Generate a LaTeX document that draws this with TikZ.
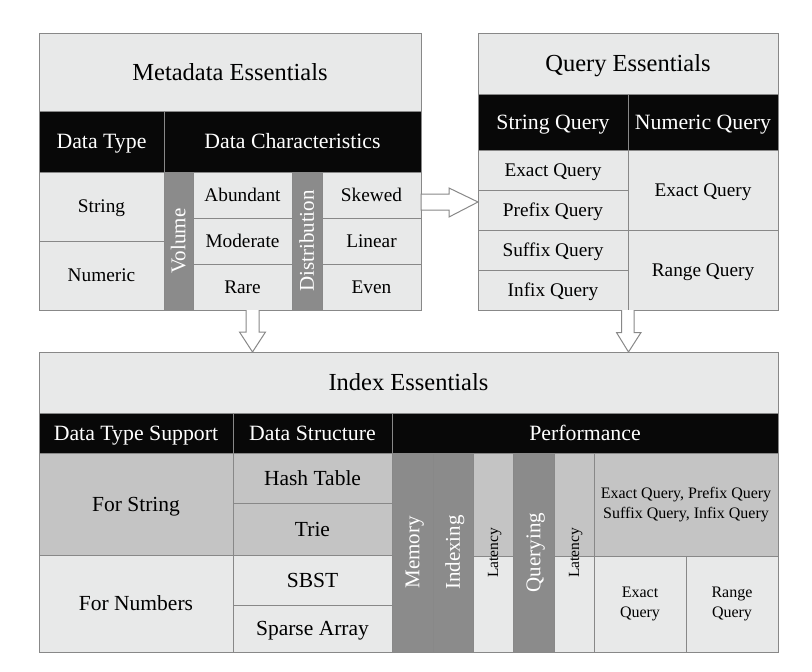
\documentclass[tikz,border=0pt]{standalone}
\usepackage{fontspec}
\setmainfont{Liberation Serif}
\definecolor{lg}{HTML}{E8E9E9}
\definecolor{mg}{HTML}{C4C4C4}
\definecolor{dg}{HTML}{8B8B8B}
\definecolor{bk}{HTML}{080808}
\definecolor{bd}{HTML}{888888}
\tikzset{
  cellst/.style={draw=bd,line width=1pt,inner sep=0pt,outer sep=0pt},
  oneline/.style={text height={0.7*#1},text depth={0.04*#1}},
  titlef/.style={font=\fontsize{24.5}{28}\selectfont,oneline=24.5pt},
  headf/.style={font=\fontsize{21.8}{25}\selectfont,text=white,oneline=21.8pt},
  bodyf/.style={font=\fontsize{19.3}{22}\selectfont,oneline=19.3pt},
  ibodyf/.style={font=\fontsize{21.5}{25}\selectfont,oneline=21.5pt},
  smallf/.style={font=\fontsize{16}{20}\selectfont},
  tinyf/.style={font=\fontsize{15.5}{18}\selectfont,rotate=90,oneline=15.5pt},
  vertw/.style={font=\fontsize{21}{24}\selectfont,rotate=90,text=white,oneline=21pt},
  blockarrow/.style={draw=bd,fill=white,line width=1pt,line join=miter},
}
% #1 name, #2 x1, #3 y1, #4 x2, #5 y2, #6 fill, #7 text style, #8 text
\newcommand\mycell[8]{%
  \node[cellst,fill=#6,minimum width={#4-#2},minimum height={#5-#3}] (#1) at ({(#2+#4)/2},{(#3+#5)/2}) {};
  \node[#7,inner sep=0pt,align=center] (#1-t) at (#1.center) {#8};
}
\begin{document}
\begin{tikzpicture}[x=1pt,y=-1pt]
\useasboundingbox[fill=white] (0,0) rectangle (812,672);
% ---------------- Metadata ----------------
\mycell{mtitle}{39}{33}{421}{111}{lg}{titlef}{Metadata Essentials}
\mycell{mdt}{39}{111}{164}{172}{bk}{headf}{Data Type}
\mycell{mdc}{164}{111}{421}{172}{bk}{headf}{Data Characteristics}
\mycell{mstr}{39}{172}{164}{241}{lg}{bodyf}{String}
\mycell{mnum}{39}{241}{164}{310}{lg}{bodyf}{Numeric}
\mycell{mvol}{164}{172}{193}{310}{dg}{vertw}{Volume}
\mycell{mab}{193}{172}{292}{218}{lg}{bodyf}{Abundant}
\mycell{mmo}{193}{218}{292}{264}{lg}{bodyf}{Moderate}
\mycell{mra}{193}{264}{292}{310}{lg}{bodyf}{Rare}
\mycell{mdis}{292}{172}{322}{310}{dg}{vertw}{Distribution}
\mycell{msk}{322}{172}{421}{218}{lg}{bodyf}{Skewed}
\mycell{mli}{322}{218}{421}{264}{lg}{bodyf}{Linear}
\mycell{mev}{322}{264}{421}{310}{lg}{bodyf}{Even}
% ---------------- Query ----------------
\mycell{qtitle}{478}{33}{778}{94}{lg}{titlef}{Query Essentials}
\mycell{qsq}{478}{94}{628}{150}{bk}{headf}{String Query}
\mycell{qnq}{628}{94}{778}{150}{bk}{headf}{Numeric Query}
\mycell{qse}{478}{150}{628}{190}{lg}{bodyf}{Exact Query}
\mycell{qsp}{478}{190}{628}{230}{lg}{bodyf}{Prefix Query}
\mycell{qss}{478}{230}{628}{270}{lg}{bodyf}{Suffix Query}
\mycell{qsi}{478}{270}{628}{310}{lg}{bodyf}{Infix Query}
\mycell{qne}{628}{150}{778}{230}{lg}{bodyf}{Exact Query}
\mycell{qnr}{628}{230}{778}{310}{lg}{bodyf}{Range Query}
% ---------------- Index ----------------
\mycell{ititle}{39}{352}{778}{413}{lg}{titlef}{Index Essentials}
\mycell{idts}{39}{413}{233}{453}{bk}{headf}{Data Type Support}
\mycell{ids}{233}{413}{392}{453}{bk}{headf}{Data Structure}
\mycell{iperf}{392}{413}{778}{453}{bk}{headf}{Performance}
\mycell{ifs}{39}{453}{233}{555}{mg}{ibodyf}{For String}
\mycell{ifn}{39}{555}{233}{652}{lg}{ibodyf}{For Numbers}
\mycell{iht}{233}{453}{392}{503}{mg}{ibodyf}{Hash Table}
\mycell{itr}{233}{503}{392}{555}{mg}{ibodyf}{Trie}
\mycell{isb}{233}{555}{392}{605}{lg}{ibodyf}{SBST}
\mycell{isa}{233}{605}{392}{652}{lg}{ibodyf}{Sparse Array}
\mycell{imem}{392}{453}{433}{652}{dg}{vertw}{Memory}
\mycell{iidx}{433}{453}{473}{652}{dg}{vertw}{Indexing}
\mycell{il1a}{473}{453}{513}{556}{mg}{}{}
\mycell{il1b}{473}{556}{513}{652}{lg}{}{}
\node[tinyf,inner sep=0pt] (il1t) at (493,553) {Latency};
\mycell{iqry}{513}{453}{554}{652}{dg}{vertw}{Querying}
\mycell{il2a}{554}{453}{594}{556}{mg}{}{}
\mycell{il2b}{554}{556}{594}{652}{lg}{}{}
\node[tinyf,inner sep=0pt] (il2t) at (574,553) {Latency};
\mycell{iall}{594}{453}{778}{556}{mg}{smallf}{Exact Query, Prefix Query\\Suffix Query, Infix Query}
\mycell{iex}{594}{556}{686}{652}{lg}{smallf}{Exact\\Query}
\mycell{irq}{686}{556}{778}{652}{lg}{smallf}{Range\\Query}
% ---------------- Arrows ----------------
\draw[blockarrow] (mdc.east |- 0,194) coordinate (ra0) -- (449,194) -- (449,188) -- (qsp.west |- 0,202) coordinate (ra1) -- (449,217) -- (449,210) -- (ra0 |- 0,210) -- cycle;
\draw[blockarrow] (246,310) -- (246,332) -- (239.5,332) -- (252.5,352) -- (265.5,332) -- (259,332) -- (259,310);
\draw[blockarrow] (621.5,310) -- (621.5,332.5) -- (616.5,332.5) -- (628.5,352) -- (641,332.5) -- (634,332.5) -- (634,310);
\end{tikzpicture}
\end{document}
